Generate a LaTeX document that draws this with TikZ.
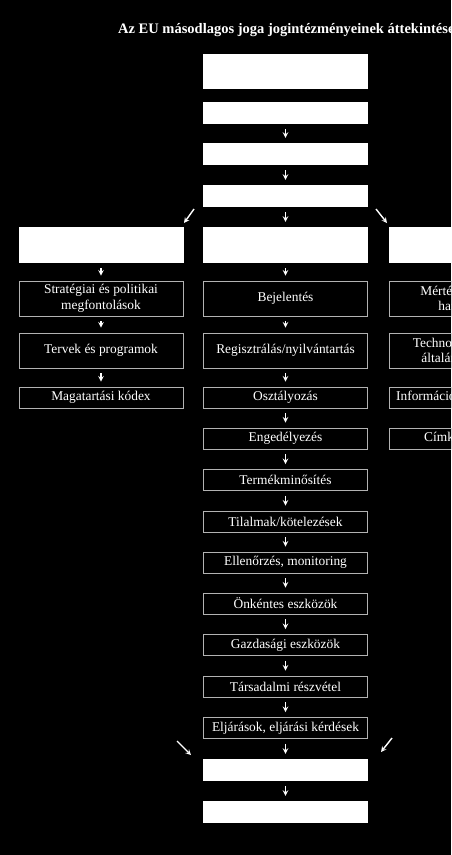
\documentclass[tikz,border=0pt]{standalone}
\usepackage{fontspec}
\setmainfont{Liberation Serif}
\usepackage{tikz}
\usetikzlibrary{arrows}

\tikzset{
  box/.style={draw=black!30, line width=0.9pt, fill=black, text=white, minimum width=164pt, minimum height=21pt, inner sep=1pt, align=center, font=\fontsize{13.4}{15.5}\selectfont},
  blank/.style={fill=white, minimum width=165pt, minimum height=22pt, inner sep=0pt},
  arr/.style={->, >=stealth, white, line width=1.4pt, shorten >=5pt, shorten <=5pt}
}

\begin{document}
\begin{tikzpicture}[x=1pt,y=-1pt]
  \fill[black] (0,0) rectangle (451,855);
  \clip (0,0) rectangle (451,855);
  \node [anchor=base west, inner sep=0pt, text=white, font=\fontsize{14.5}{17}\selectfont\bfseries] (title) at (118,33) {Az EU másodlagos joga jogintézményeinek áttekintése};

  \node [blank, minimum height=35pt] (t0) at (285.5,71.5) {};
  \node [blank] (t1) at (285.5,113) {};
  \node [blank] (t2) at (285.5,154) {};
  \node [blank] (t3) at (285.5,196) {};

  \node [blank, minimum height=36pt] (l1) at (101,245) {};
  \node [blank, minimum height=36pt] (m1) at (285.5,245) {};
  \node [blank, minimum height=36pt] (r1) at (471.5,245) {};

  \node [box, minimum height=35pt] (l2) at (101,298.5) {Stratégiai és politikai\\megfontolások};
  \node [box, minimum height=35pt] (m2) at (285.5,298.5) {Bejelentés};
  \node [box, minimum height=35pt] (r2) at (471.5,298.5) {Mértékek, normák,\\határértékek};
  \node [box, minimum height=35pt] (l3) at (101,350.5) {Tervek és programok};
  \node [box, minimum height=35pt] (m3) at (285.5,350.5) {Regisztrálás/nyilvántartás};
  \node [box, minimum height=35pt] (r3) at (471.5,350.5) {Technológiai normák,\\általános előírások};
  \node [box] (l4) at (101,397.5) {Magatartási kódex};
  \node [box] (m4) at (285.5,397.5) {Osztályozás};
  \node [box] (r4) at (471.5,397.5) {Információs kötelezettségek};
  \node [box] (m5) at (285.5,438.5) {Engedélyezés};
  \node [box] (r5) at (471.5,438.5) {Címkézés, jelölés};
  \node [box] (m6) at (285.5,480) {Termékminősítés};
  \node [box] (m7) at (285.5,521.5) {Tilalmak/kötelezések};
  \node [box] (m8) at (285.5,562.5) {Ellenőrzés, monitoring};
  \node [box] (m9) at (285.5,603.5) {Önkéntes eszközök};
  \node [box] (m10) at (285.5,645) {Gazdasági eszközök};
  \node [box] (m11) at (285.5,686.5) {Társadalmi részvétel};
  \node [box] (m12) at (285.5,728) {Eljárások, eljárási kérdések};
  \node [blank] (m13) at (285.5,770) {};
  \node [blank] (m14) at (285.5,812) {};

  \foreach \a/\b in {t1/t2,t2/t3,t3/m1,m1/m2,m2/m3,m3/m4,m4/m5,m5/m6,m6/m7,m7/m8,m8/m9,m9/m10,m10/m11,m11/m12,m12/m13,m13/m14,l1/l2,l2/l3,l3/l4}
    \draw [arr] (\a) -- (\b);

  \coordinate (ul) at (194,209);
  \coordinate (ul') at (184,223);
  \coordinate (ur) at (376,209);
  \coordinate (ur') at (387,223);
  \coordinate (bl) at (177,741);
  \coordinate (bl') at (191,755);
  \coordinate (br) at (392,738);
  \coordinate (br') at (381,752);
  \foreach \a/\b in {ul/ul',ur/ur',bl/bl',br/br'}
    \draw [arr, shorten <=0pt, shorten >=0pt] (\a) -- (\b);
\end{tikzpicture}
\end{document}
